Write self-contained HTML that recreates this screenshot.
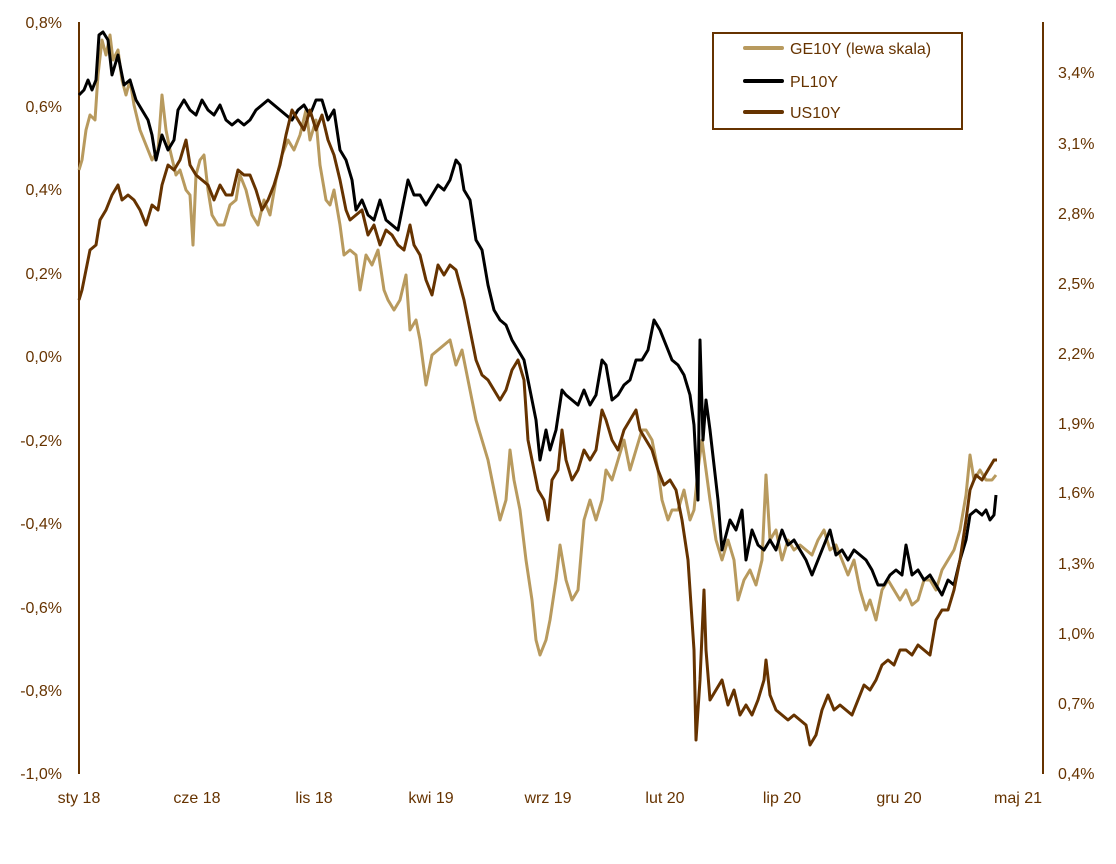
<!DOCTYPE html>
<html><head><meta charset="utf-8"><style>
html,body{margin:0;padding:0;background:#fff;}
svg{display:block;font-family:"Liberation Sans",Arial,sans-serif;}
text{fill:#663300;font-size:16px;}
</style></head><body>
<svg width="1116" height="864" viewBox="0 0 1116 864">
<line x1="79" y1="22" x2="79" y2="774" stroke="#663300" stroke-width="2"/>
<line x1="1043" y1="22" x2="1043" y2="774" stroke="#663300" stroke-width="2"/>
<g text-anchor="end">
<text x="62" y="28">0,8%</text><text x="62" y="112">0,6%</text><text x="62" y="195">0,4%</text>
<text x="62" y="279">0,2%</text><text x="62" y="362">0,0%</text><text x="62" y="446">-0,2%</text>
<text x="62" y="529">-0,4%</text><text x="62" y="613">-0,6%</text><text x="62" y="696">-0,8%</text>
<text x="62" y="779">-1,0%</text>
</g>
<g text-anchor="start">
<text x="1058" y="78">3,4%</text><text x="1058" y="149">3,1%</text><text x="1058" y="219">2,8%</text>
<text x="1058" y="289">2,5%</text><text x="1058" y="359">2,2%</text><text x="1058" y="429">1,9%</text>
<text x="1058" y="498">1,6%</text><text x="1058" y="569">1,3%</text><text x="1058" y="639">1,0%</text>
<text x="1058" y="709">0,7%</text><text x="1058" y="779">0,4%</text>
</g>
<g text-anchor="middle">
<text x="79" y="803">sty 18</text><text x="197" y="803">cze 18</text><text x="314" y="803">lis 18</text>
<text x="431" y="803">kwi 19</text><text x="548" y="803">wrz 19</text><text x="665" y="803">lut 20</text>
<text x="782" y="803">lip 20</text><text x="899" y="803">gru 20</text><text x="1018" y="803">maj 21</text>
</g>
<g fill="none" stroke-width="3" stroke-linejoin="round">
<polyline stroke="#B89A5E" points="79,170 82,160 86,130 90,115 95,120 98,75 102,40 106,55 110,35 113,60 118,50 122,80 126,95 130,80 134,105 140,130 146,145 152,160 158,150 162,95 166,130 170,150 176,175 180,170 186,190 190,195 193,245 196,175 200,160 204,155 208,190 212,215 218,225 224,225 230,205 236,200 240,175 246,190 252,215 258,225 264,200 270,215 276,180 282,155 288,140 294,150 300,135 306,110 310,140 316,120 320,165 326,200 330,205 334,190 340,225 344,255 350,250 356,255 360,290 366,255 372,265 378,250 384,290 388,300 394,310 400,300 406,275 410,330 416,320 420,340 426,385 432,355 438,350 444,345 450,340 456,365 462,350 468,380 472,400 476,420 482,440 488,460 494,490 500,520 506,500 510,450 514,480 520,510 526,560 532,600 536,640 540,655 546,640 550,620 556,580 560,545 566,580 572,600 578,590 584,520 590,500 596,520 602,500 606,470 612,480 618,460 624,440 630,470 636,450 642,430 646,430 652,440 658,470 662,500 668,520 672,510 678,510 684,490 690,520 694,510 698,470 702,440 706,470 710,500 716,540 722,560 728,540 734,560 738,600 744,580 750,570 756,585 762,560 766,475 770,540 776,530 782,560 788,540 794,550 800,545 806,550 812,555 818,540 824,530 830,550 836,545 842,560 848,575 854,560 860,590 866,610 870,600 876,620 882,590 888,580 894,590 900,600 906,590 912,605 918,600 924,580 930,580 936,590 942,570 948,560 954,550 960,530 966,495 970,455 974,480 980,470 986,480 992,480 996,475"/>
<polyline stroke="#000" points="79,95 84,90 88,80 92,90 96,80 99,35 103,32 108,40 112,75 118,55 124,85 130,80 136,100 142,110 148,120 152,135 156,160 162,135 168,150 174,140 178,110 184,100 190,110 196,115 202,100 208,110 214,115 220,105 226,120 232,125 238,120 244,125 250,120 256,110 262,105 268,100 274,105 280,110 286,115 292,120 298,110 304,105 310,115 316,100 322,100 328,120 334,110 340,150 346,160 352,180 356,210 362,200 368,215 374,220 380,200 386,220 392,225 398,230 404,200 408,180 414,195 420,195 426,205 432,195 438,185 444,190 450,180 456,160 460,165 464,190 470,200 476,240 482,250 488,285 494,310 500,320 506,325 512,340 518,350 524,360 530,390 536,420 540,460 546,430 550,450 556,430 562,390 566,395 572,400 578,405 584,390 590,405 596,395 602,360 606,365 612,400 618,395 624,385 630,380 636,360 642,360 648,350 654,320 660,330 666,345 672,360 678,365 684,375 690,395 694,425 698,500 700,340 703,440 706,400 710,430 714,465 718,500 722,550 726,535 730,520 736,530 742,510 746,560 752,530 758,545 764,550 770,540 776,550 782,530 788,545 794,540 800,550 806,560 812,575 818,560 824,545 830,530 836,555 842,550 848,560 854,550 860,555 866,560 872,570 878,585 884,585 890,575 896,570 902,575 906,545 912,575 918,570 924,580 930,575 936,585 942,595 948,580 954,585 960,560 966,540 970,515 976,510 982,515 986,510 990,520 994,515 996,495"/>
<polyline stroke="#663300" points="79,300 82,290 86,270 90,250 96,245 100,220 106,210 112,195 118,185 122,200 128,195 134,200 140,210 146,225 152,205 158,210 162,185 168,165 174,170 180,160 186,140 190,165 196,175 202,180 208,185 214,200 220,185 226,195 232,195 238,170 244,175 250,175 256,190 262,210 268,200 274,185 280,165 286,135 292,110 298,120 304,130 310,110 316,130 322,115 328,140 334,155 340,180 346,210 350,220 356,215 362,210 368,235 374,225 380,245 386,230 392,235 398,245 404,250 410,225 414,245 420,255 426,280 432,295 438,265 444,275 450,265 456,270 460,285 464,300 470,330 476,360 482,375 488,380 494,390 500,400 506,390 512,370 518,360 524,380 528,440 534,470 538,490 544,500 548,520 552,480 558,470 562,430 566,460 572,480 578,470 584,450 590,460 596,450 602,410 606,420 612,440 618,450 624,430 630,420 636,410 640,430 646,440 652,450 658,470 664,485 670,480 676,490 682,520 688,560 692,620 694,650 696,740 700,680 704,590 706,650 710,700 716,690 722,680 728,705 734,690 740,715 746,705 752,715 758,700 764,680 766,660 770,695 776,710 782,715 788,720 794,715 800,720 806,725 810,745 816,735 822,710 828,695 834,710 840,705 846,710 852,715 858,700 864,685 870,690 876,680 882,665 888,660 894,665 900,650 906,650 912,655 918,645 924,650 930,655 936,620 942,610 948,610 954,590 960,560 966,520 970,490 976,475 982,480 988,470 994,460 997,460"/>
</g>
<rect x="713" y="33" width="249" height="96" fill="#fff" stroke="#663300" stroke-width="2"/>
<g stroke-width="4" stroke-linecap="round">
<line x1="745" y1="48" x2="782" y2="48" stroke="#B89A5E"/>
<line x1="745" y1="81" x2="782" y2="81" stroke="#000"/>
<line x1="745" y1="112" x2="782" y2="112" stroke="#663300"/>
</g>
<text x="790" y="54">GE10Y (lewa skala)</text>
<text x="790" y="87">PL10Y</text>
<text x="790" y="118">US10Y</text>
</svg>
</body></html>
